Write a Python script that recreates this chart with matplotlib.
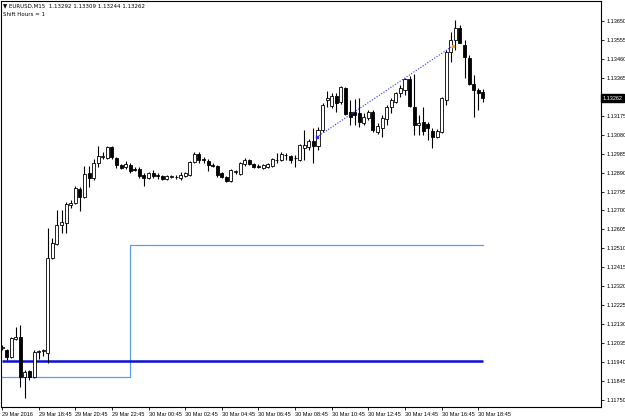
import matplotlib
matplotlib.use("Agg")
import matplotlib.pyplot as plt
import numpy as np

# ---- data (EURUSD M15, 29 Mar 2016 16:45 .. 30 Mar 2016 19:00) ----
opens = [1.12011, 1.12001, 1.11965, 1.12056, 1.12066, 1.11865, 1.11895, 1.11865, 1.11991, 1.11996,
         1.11986, 1.12462, 1.12532, 1.12627, 1.12637, 1.12727, 1.12737, 1.12808, 1.12768, 1.12888,
         1.12863, 1.12938, 1.12968, 1.12963, 1.13018, 1.12963, 1.12928, 1.12918, 1.12928, 1.12908,
         1.12908, 1.12878, 1.12863, 1.12888, 1.12878, 1.12873, 1.12858, 1.12868, 1.12868, 1.12863,
         1.12873, 1.12878, 1.12943, 1.12983, 1.12958, 1.12948, 1.12928, 1.12923, 1.12888, 1.12868,
         1.12848, 1.12893, 1.12883, 1.12933, 1.12953, 1.12933, 1.12923, 1.12913, 1.12918, 1.12923,
         1.12953, 1.12953, 1.12978, 1.12973, 1.12963, 1.12953, 1.13013, 1.13018, 1.13048, 1.13023,
         1.13103, 1.13254, 1.13224, 1.13274, 1.13244, 1.13314, 1.13194, 1.13194, 1.13189, 1.13139,
         1.13164, 1.13194, 1.13093, 1.13113, 1.13159, 1.13219, 1.13244, 1.13289, 1.13304, 1.13359,
         1.13219, 1.13129, 1.13144, 1.13134, 1.13098, 1.13068, 1.13093, 1.13254, 1.13495, 1.13555,
         1.13615, 1.13530, 1.13465, 1.13334, 1.13304, 1.13292]
highs = [1.12026, 1.12006, 1.12066, 1.12116, 1.12126, 1.11900, 1.11900, 1.12001, 1.12001, 1.12006,
         1.12612, 1.12562, 1.12702, 1.12702, 1.12742, 1.12753, 1.12823, 1.12818, 1.12923, 1.12923,
         1.12958, 1.13023, 1.12993, 1.13023, 1.13023, 1.12968, 1.12933, 1.12948, 1.12938, 1.12918,
         1.12918, 1.12888, 1.12893, 1.12903, 1.12888, 1.12878, 1.12878, 1.12878, 1.12880, 1.12893,
         1.12893, 1.12948, 1.12993, 1.12993, 1.12968, 1.12958, 1.12938, 1.12928, 1.12893, 1.12873,
         1.12908, 1.12903, 1.12943, 1.12963, 1.12958, 1.12938, 1.12933, 1.12933, 1.12938, 1.12963,
         1.12988, 1.12993, 1.12988, 1.12978, 1.12978, 1.13033, 1.13103, 1.13058, 1.13113, 1.13119,
         1.13239, 1.13299, 1.13289, 1.13289, 1.13324, 1.13319, 1.13254, 1.13259, 1.13264, 1.13189,
         1.13204, 1.13204, 1.13139, 1.13179, 1.13229, 1.13264, 1.13294, 1.13329, 1.13364, 1.13374,
         1.13384, 1.13179, 1.13219, 1.13144, 1.13113, 1.13108, 1.13269, 1.13505, 1.13595, 1.13655,
         1.13630, 1.13555, 1.13480, 1.13379, 1.13314, 1.13309]
lows = [1.12001, 1.11950, 1.11960, 1.12051, 1.11815, 1.11760, 1.11850, 1.11860, 1.11955, 1.11970,
        1.11935, 1.12457, 1.12527, 1.12587, 1.12587, 1.12712, 1.12732, 1.12697, 1.12763, 1.12818,
        1.12853, 1.12918, 1.12958, 1.12958, 1.12958, 1.12913, 1.12908, 1.12908, 1.12888, 1.12898,
        1.12863, 1.12823, 1.12858, 1.12863, 1.12858, 1.12853, 1.12853, 1.12863, 1.12860, 1.12853,
        1.12868, 1.12873, 1.12938, 1.12938, 1.12938, 1.12898, 1.12918, 1.12868, 1.12863, 1.12843,
        1.12843, 1.12883, 1.12878, 1.12923, 1.12928, 1.12913, 1.12913, 1.12908, 1.12913, 1.12918,
        1.12938, 1.12948, 1.12953, 1.12938, 1.12918, 1.12948, 1.12953, 1.13003, 1.12938, 1.13003,
        1.13093, 1.13219, 1.13214, 1.13194, 1.13234, 1.13179, 1.13129, 1.13129, 1.13119, 1.13129,
        1.13154, 1.13093, 1.13083, 1.13068, 1.13129, 1.13189, 1.13239, 1.13269, 1.13279, 1.13219,
        1.13078, 1.13078, 1.13078, 1.13053, 1.13013, 1.13063, 1.13088, 1.13229, 1.13444, 1.13505,
        1.13540, 1.13364, 1.13329, 1.13169, 1.13204, 1.13244]
closes = [1.12016, 1.11965, 1.12061, 1.12066, 1.11865, 1.11890, 1.11865, 1.11991, 1.11996, 1.12001,
          1.12462, 1.12537, 1.12627, 1.12642, 1.12732, 1.12737, 1.12813, 1.12768, 1.12883, 1.12863,
          1.12938, 1.12973, 1.12973, 1.13018, 1.12968, 1.12928, 1.12913, 1.12933, 1.12898, 1.12903,
          1.12873, 1.12863, 1.12888, 1.12873, 1.12873, 1.12858, 1.12873, 1.12873, 1.12870, 1.12878,
          1.12888, 1.12943, 1.12983, 1.12953, 1.12953, 1.12928, 1.12925, 1.12878, 1.12868, 1.12848,
          1.12903, 1.12898, 1.12938, 1.12953, 1.12933, 1.12918, 1.12920, 1.12928, 1.12933, 1.12958,
          1.12955, 1.12983, 1.12980, 1.12953, 1.12965, 1.13028, 1.13028, 1.13048, 1.13023, 1.13103,
          1.13229, 1.13264, 1.13274, 1.13239, 1.13319, 1.13184, 1.13169, 1.13179, 1.13144, 1.13169,
          1.13194, 1.13103, 1.13124, 1.13164, 1.13219, 1.13254, 1.13289, 1.13314, 1.13359, 1.13224,
          1.13129, 1.13139, 1.13098, 1.13113, 1.13068, 1.13098, 1.13264, 1.13495, 1.13555, 1.13615,
          1.13540, 1.13469, 1.13334, 1.13304, 1.13289, 1.13262]

# indicator lines
shift_line = [1.11865] * 28 + [1.12527] * 78
level_line = 1.11945
trend_bars = [68.7, 98.5]
trend_prices = [1.13067, 1.13526]

x_tick_bars = [0, 8, 16, 24, 32, 40, 48, 56, 64, 72, 80, 88, 96, 104]
x_tick_labels = ["29 Mar 2016", "29 Mar 18:45", "29 Mar 20:45", "29 Mar 22:45", "30 Mar 00:45",
                 "30 Mar 02:45", "30 Mar 04:45", "30 Mar 06:45", "30 Mar 08:45", "30 Mar 10:45",
                 "30 Mar 12:45", "30 Mar 14:45", "30 Mar 16:45", "30 Mar 18:45"]
y_ticks = [1.13650, 1.13555, 1.13460, 1.13365, 1.13175, 1.13080, 1.12985, 1.12890, 1.12795,
           1.12700, 1.12605, 1.12510, 1.12415, 1.12320, 1.12225, 1.12130, 1.12035, 1.11940,
           1.11845, 1.11750]
last_price = 1.13262
header = "\u25BC EURUSD,M15  1.13292 1.13309 1.13244 1.13262"
subheader = "Shift Hours = 1"

# ---- figure ----
W, H = 625, 420
fig = plt.figure(figsize=(W / 100, H / 100), dpi=100)
ax = fig.add_axes([1 / W, 13 / H, 600 / W, 406 / H])
ax.set_facecolor("white")

n = len(opens)
xs = np.arange(n)
o = np.array(opens); c = np.array(closes); h = np.array(highs); l = np.array(lows)

# light blue step line and dark blue level
ax.step(xs, shift_line, where="post", color="#5a9fe6", lw=0.9, zorder=1)
ax.hlines(level_line, 0, n - 1, color="#0a10d8", lw=1.8, zorder=1)

# wicks
ax.vlines(xs, l, h, color="black", lw=0.8, zorder=3)
# bodies
bull = c >= o
body_bottom = np.minimum(o, c)
body_h = np.maximum(np.abs(c - o), 0.000008)
ax.bar(xs[bull], body_h[bull], bottom=body_bottom[bull], width=0.66,
       color="white", edgecolor="black", linewidth=0.6, zorder=4)
ax.bar(xs[~bull], body_h[~bull], bottom=body_bottom[~bull], width=0.66,
       color="black", edgecolor="black", linewidth=0.6, zorder=4)

# dotted trend line
ax.plot(trend_bars, trend_prices, color="#2a2aff", lw=0.8, ls=(0, (1, 1.5)), zorder=5)
ax.plot(trend_bars[0], trend_prices[0], marker="s", ms=1.6, color="#2a2aff", zorder=6)
ax.plot(trend_bars[1], trend_prices[1], marker="s", ms=1.6, color="#f0a020", zorder=6)

# axes limits
ax.set_xlim(-0.22, 130.8)
ax.set_ylim(1.11715, 1.13750)

# spines
for s in ax.spines.values():
    s.set_color("black")
    s.set_linewidth(0.8)

# x ticks
ax.set_xticks(x_tick_bars)
ax.set_xticklabels(x_tick_labels, fontsize=4.0, family="Liberation Sans", ha="left")
ax.tick_params(axis="x", direction="out", length=2.2, width=0.6, pad=1.5, colors="black")

# y ticks on right
ax.yaxis.tick_right()
ax.set_yticks(y_ticks)
ax.set_yticklabels(["%.5f" % v for v in y_ticks], fontsize=4.0, family="Liberation Sans")
ax.tick_params(axis="y", direction="out", length=2.2, width=0.6, pad=1.5, colors="black")

# current price box
ax.text(1.003, last_price, "%.5f" % last_price, transform=ax.get_yaxis_transform(),
        fontsize=4.0, family="Liberation Sans", color="white", va="center", ha="left",
        bbox=dict(boxstyle="square,pad=0.25", fc="black", ec="black"), zorder=10)

# header texts
fig.text(3 / W, 1 - 6 / H, header, fontsize=4.0, family="DejaVu Sans", va="center", ha="left")
fig.text(3 / W, 1 - 14 / H, subheader, fontsize=4.0, family="DejaVu Sans", va="center", ha="left")

fig.savefig("out.png", dpi=100, facecolor="white")
